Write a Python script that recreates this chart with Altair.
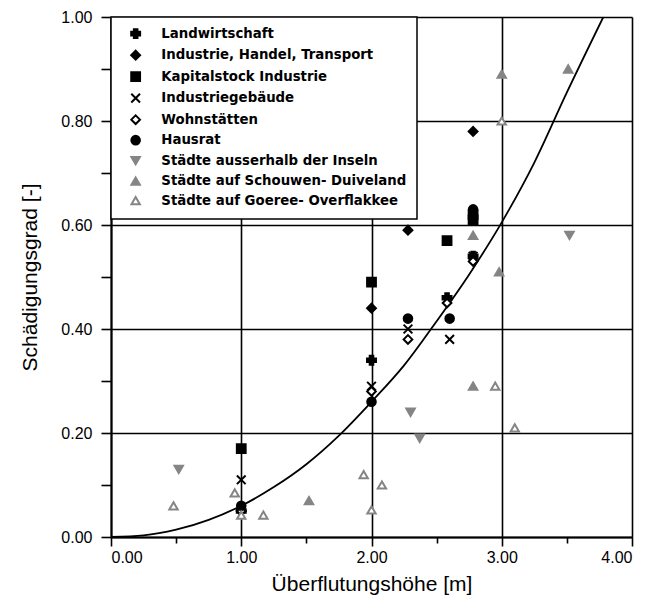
import altair as alt
import pandas as pd

cats = ["Landwirtschaft", "Industrie, Handel, Transport", "Kapitalstock Industrie",
        "Industriegebäude", "Wohnstätten", "Hausrat", "Städte ausserhalb der Inseln",
        "Städte auf Schouwen- Duiveland", "Städte auf Goeree- Overflakkee"]

land_x = [1.0, 2.0, 2.58, 2.78]
land_y = [0.05, 0.34, 0.46, 0.54]
ind_x = [1.0, 2.0, 2.28, 2.78]
ind_y = [0.05, 0.44, 0.59, 0.78]
kap_x = [1.0, 2.0, 2.58, 2.78, 2.78]
kap_y = [0.17, 0.49, 0.57, 0.61, 0.62]
geb_x = [1.0, 2.0, 2.28, 2.6, 2.78]
geb_y = [0.11, 0.29, 0.40, 0.38, 0.54]
wohn_x = [1.0, 2.0, 2.28, 2.58, 2.78]
wohn_y = [0.05, 0.28, 0.38, 0.45, 0.53]
haus_x = [1.0, 2.0, 2.28, 2.6, 2.78]
haus_y = [0.06, 0.26, 0.42, 0.42, 0.63]
aus_x = [0.52, 2.3, 2.37, 3.52]
aus_y = [0.13, 0.24, 0.19, 0.58]
sch_x = [1.52, 2.78, 2.78, 2.98, 3.0, 3.51]
sch_y = [0.07, 0.58, 0.29, 0.51, 0.89, 0.90]
goe_x = [0.48, 0.95, 1.0, 1.17, 1.94, 2.0, 2.08, 2.95, 3.1, 3.0]
goe_y = [0.06, 0.085, 0.042, 0.042, 0.12, 0.052, 0.10, 0.29, 0.21, 0.80]

curve_x = [0.0, 0.25, 0.5, 0.75, 1.0, 1.25, 1.5, 1.75, 2.0, 2.25, 2.5, 2.75, 3.0, 3.25, 3.5, 3.78]
curve_y = [0.0, 0.003, 0.014, 0.033, 0.06, 0.096, 0.14, 0.195, 0.26, 0.33, 0.415, 0.505, 0.605, 0.72, 0.855, 1.0]

series = [(land_x, land_y), (ind_x, ind_y), (kap_x, kap_y), (geb_x, geb_y),
          (wohn_x, wohn_y), (haus_x, haus_y), (aus_x, aus_y), (sch_x, sch_y), (goe_x, goe_y)]
rows = []
for c, (xs_, ys_) in zip(cats, series):
    for xv, yv in zip(xs_, ys_):
        rows.append({"cat": c, "x": xv, "y": yv})
pts = pd.DataFrame(rows)
curve = pd.DataFrame({"x": curve_x, "y": curve_y})

GRAY = "#858585"
shapes = ["cross", "diamond", "square", "M-1,-1L1,1M-1,1L1,-1", "diamond", "circle",
          "triangle-down", "triangle-up", "triangle-up"]
fills = ["black", "black", "black", "transparent", "white", "black", GRAY, GRAY, "white"]
strokes = ["black", "black", "black", "black", "black", "black", GRAY, GRAY, GRAY]
sizes = [80, 70, 80, 80, 45, 80, 80, 80, 40]

FONT = "Liberation Sans"
x_ticks = [0, 0.5, 1, 1.5, 2, 2.5, 3, 3.5, 4]
y_ticks = [0, 0.1, 0.2, 0.3, 0.4, 0.5, 0.6, 0.7, 0.8, 0.9, 1.0]

x_axis = alt.Axis(
    values=x_ticks,
    labelExpr="round(datum.value*2) % 2 == 0 ? format(datum.value, '.2f') : ''",
    grid=True,
    gridOpacity={"condition": {"test": "round(datum.value*2) % 2 == 0", "value": 1}, "value": 0},
    tickSize={"condition": {"test": "round(datum.value*2) % 2 == 0", "value": 9}, "value": 6},
    labelPadding=3,
    titlePadding=8,
    title="Überflutungshöhe [m]",
)
y_axis = alt.Axis(
    values=y_ticks,
    labelExpr="round(datum.value*10) % 2 == 0 ? format(datum.value, '.2f') : ''",
    grid=True,
    gridOpacity={"condition": {"test": "round(datum.value*10) % 2 == 0", "value": 1}, "value": 0},
    tickSize=10,
    labelPadding=9,
    titlePadding=20,
    title="Schädigungsgrad [-]",
)

xs = alt.Scale(domain=[0, 4], nice=False, zero=False)
ys = alt.Scale(domain=[0, 1], nice=False, zero=False)

line = alt.Chart(curve).mark_line(color="black", strokeWidth=1.8, interpolate="monotone", clip=True).encode(
    x=alt.X("x:Q", scale=xs, axis=x_axis),
    y=alt.Y("y:Q", scale=ys, axis=y_axis),
)

legend = alt.Legend(
    title=None, orient="none", legendX=0, legendY=0,
    fillColor="white", strokeColor="black", padding=10,
    symbolOffset=8, labelOffset=19, rowPadding=3.5,
    labelFont="DejaVu Sans", labelFontSize=13.3, labelFontWeight="bold", labelColor="black",
    labelLimit=400, symbolStrokeWidth=2,
)

points = alt.Chart(pts).mark_point(strokeWidth=2, opacity=1).encode(
    x=alt.X("x:Q", scale=xs),
    y=alt.Y("y:Q", scale=ys),
    shape=alt.Shape("cat:N", scale=alt.Scale(domain=cats, range=shapes), legend=legend),
    fill=alt.Fill("cat:N", scale=alt.Scale(domain=cats, range=fills), legend=legend),
    stroke=alt.Stroke("cat:N", scale=alt.Scale(domain=cats, range=strokes), legend=legend),
    size=alt.Size("cat:N", scale=alt.Scale(domain=cats, range=sizes), legend=legend),
)

chart = alt.layer(line, points).properties(
    width=521, height=520,
    autosize=alt.AutoSizeParams(type="none"),
    padding={"left": 103, "top": 9, "right": 10, "bottom": 62},
).configure_axis(
    domainColor="black", domainWidth=2,
    gridColor="black", gridWidth=1.6,
    tickColor="black", tickWidth=1.6,
    labelFont=FONT, labelFontSize=16, labelColor="black",
    titleFont=FONT, titleFontSize=21, titleFontWeight="normal", titleColor="black",
).configure_view(stroke=None).configure_legend(strokeWidth=1.5)

chart.save("out.html", embed_options={"renderer": "svg", "actions": False})
